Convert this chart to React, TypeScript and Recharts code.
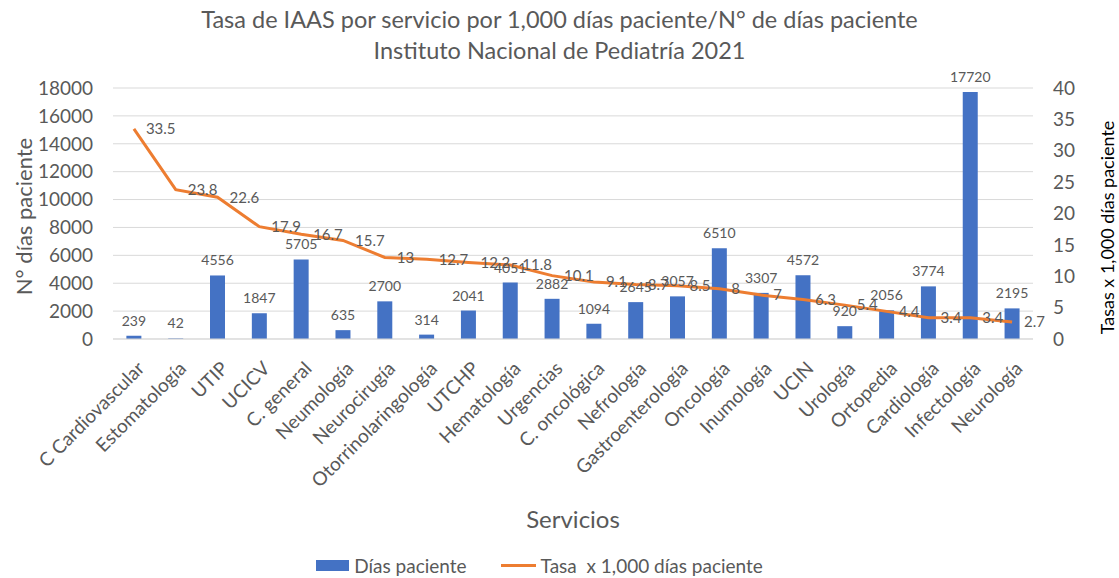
import { ComposedChart, Bar, Line, XAxis, YAxis, CartesianGrid, Legend, LabelList } from "recharts";

// Excel-style combo: bars on left axis (días paciente), rate line on right axis.

const servicios = [
  "C Cardiovascular", "Estomatología", "UTIP", "UCICV", "C. general", "Neumología",
  "Neurocirugía", "Otorrinolaringología", "UTCHP", "Hematología", "Urgencias",
  "C. oncológica", "Nefrología", "Gastroenterología", "Oncología", "Inumología",
  "UCIN", "Urología", "Ortopedia", "Cardiología", "Infectología", "Neurología",
];
const diasPaciente = [
  239, 42, 4556, 1847, 5705, 635, 2700, 314, 2041, 4051, 2882,
  1094, 2645, 3057, 6510, 3307, 4572, 920, 2056, 3774, 17720, 2195,
];
const tasa = [
  33.5, 23.8, 22.6, 17.9, 16.7, 15.7, 13, 12.7, 12.2, 11.8, 10.1,
  9.1, 8.7, 8.5, 8, 7, 6.3, 5.4, 4.4, 3.4, 3.4, 2.7,
];
const leftTicks = [0, 2000, 4000, 6000, 8000, 10000, 12000, 14000, 16000, 18000];
const rightTicks = [0, 5, 10, 15, 20, 25, 30, 35, 40];

const data = servicios.map((s, i) => ({ servicio: s, dias: diasPaciente[i], tasa: tasa[i] }));

const FONT = "Lato, 'Open Sans', sans-serif";
const GRAY = "#595959";
const BLUE = "#4472C4";
const ORANGE = "#ED7D31";

const XTick = ({ x, y, payload }: any) => (
  <text x={x + 7} y={y + 18} dy="0.35em" transform={`rotate(-45 ${x + 7} ${y + 18})`}
    textAnchor="end" fill={GRAY} fontSize={19} fontFamily={FONT}>
    {payload.value}
  </text>
);

const axisTitle = (text: string, dxFromBox: number, dyFromMid: number, color: string, size: number) =>
  ({ viewBox }: any) => {
    const cx = viewBox.x + dxFromBox;
    const cy = viewBox.y + viewBox.height / 2 + dyFromMid;
    return (
      <text transform={`translate(${cx} ${cy}) rotate(-90)`} textAnchor="middle" dominantBaseline="central"
        fill={color} fontSize={size} fontFamily={FONT}>
        {text}
      </text>
    );
  };

const LegendContent = () => (
  <div style={{ display: "flex", justifyContent: "center", alignItems: "center", fontFamily: FONT, fontSize: 19, color: GRAY }}>
    <span style={{ display: "inline-block", width: 33, height: 11, background: BLUE, marginRight: 5 }} />
    <span style={{ marginRight: 34 }}>Días paciente</span>
    <span style={{ display: "inline-block", width: 35, height: 3, background: ORANGE, marginRight: 5 }} />
    <span>Tasa&nbsp; x 1,000 días paciente</span>
  </div>
);

export default function App() {
  return (
    <div style={{ position: "absolute", left: 0, top: 0, width: 1119, height: 578, background: "#fff", fontFamily: FONT }}>
      <div style={{ position: "absolute", top: 4, width: 1119, textAlign: "center", color: GRAY, fontSize: 23.5, lineHeight: "31px" }}>
        Tasa de IAAS por servicio por 1,000 días paciente/N° de días paciente<br />
        Instituto Nacional de Pediatría 2021
      </div>
      <ComposedChart width={1119} height={578} data={data} barCategoryGap="32%"
        margin={{ top: 88, right: 0, bottom: 0, left: 0 }}>
        <CartesianGrid yAxisId="left" vertical={false} stroke="#D9D9D9" />
        <XAxis dataKey="servicio" interval={0} height={239} tick={<XTick />} axisLine={{ stroke: "#D9D9D9" }}
          tickLine={false}
          label={{ value: "Servicios", position: "insideBottom", offset: 50, fill: GRAY, fontSize: 24, fontFamily: FONT }} />
        <YAxis yAxisId="left" width={113} domain={[0, 18000]} ticks={leftTicks} axisLine={false} tickLine={false}
          tickMargin={14} tick={{ fill: GRAY, fontSize: 19, fontFamily: FONT }}
          label={{ content: axisTitle("N° días paciente", 23, 3, GRAY, 22) }} />
        <YAxis yAxisId="right" orientation="right" width={86} domain={[0, 40]} ticks={rightTicks} axisLine={false}
          tickLine={false} tickMargin={14} tick={{ fill: GRAY, fontSize: 19, fontFamily: FONT }}
          label={{ content: axisTitle("Tasas x 1,000  días paciente", 74, 14, "#000", 18) }} />
        <Legend verticalAlign="middle" align="center" content={<LegendContent />}
          wrapperStyle={{ top: 554, left: 0, width: 1079 }} />
        <Bar yAxisId="left" dataKey="dias" name="Días paciente" fill={BLUE} isAnimationActive={false}>
          <LabelList dataKey="dias" position="top" offset={10} fill={GRAY} fontSize={14} fontFamily={FONT} />
        </Bar>
        <Line yAxisId="right" type="linear" dataKey="tasa" name="Tasa  x 1,000 días paciente" stroke={ORANGE}
          strokeWidth={3} dot={false} isAnimationActive={false}>
          <LabelList dataKey="tasa" position="right" offset={12} fill={GRAY} fontSize={15} fontFamily={FONT} />
        </Line>
      </ComposedChart>
    </div>
  );
}
